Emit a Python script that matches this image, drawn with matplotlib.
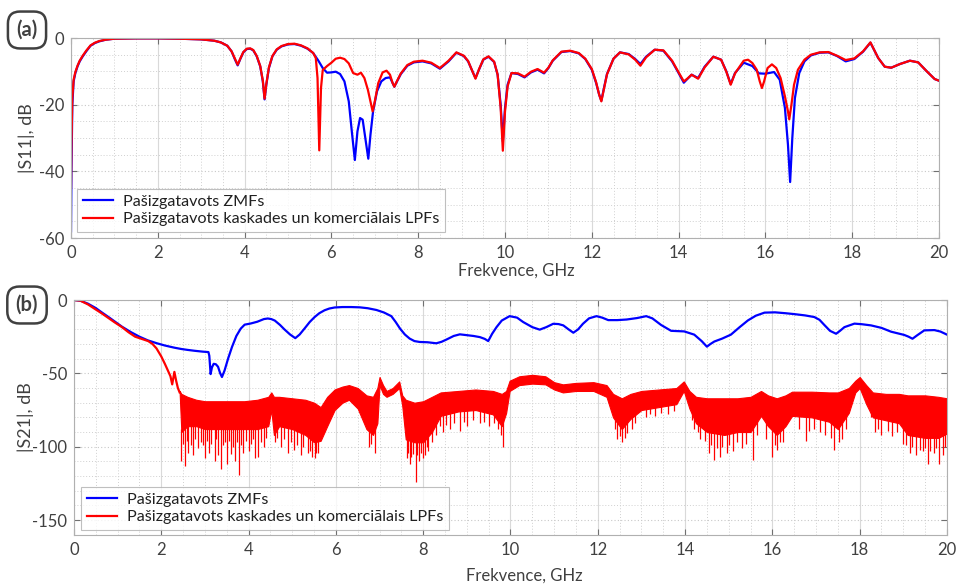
import matplotlib.pyplot as plt
import numpy as np
from matplotlib.ticker import MultipleLocator

plt.rcParams['font.family'] = ['Lato', 'DejaVu Sans']
plt.rcParams['axes.unicode_minus'] = False

# |S11| (dB) - pašizgatavots ZMFs
s11_zmf_f = [0, 0.01, 0.03, 0.06, 0.1, 0.15, 0.2, 0.27, 0.35, 0.45, 0.55, 0.65, 0.8, 1.0, 1.5, 2.0,
             2.5, 3.0, 3.3, 3.45, 3.6, 3.7, 3.78, 3.84, 3.9, 3.97, 4.05, 4.13, 4.2, 4.28, 4.36, 4.42,
             4.46, 4.5, 4.56, 4.64, 4.74, 4.85, 5.0, 5.15, 5.3, 5.45, 5.58, 5.7, 5.8, 5.9, 6.0, 6.1,
             6.2, 6.3, 6.4, 6.47, 6.54, 6.6, 6.66, 6.72, 6.78, 6.85, 6.9, 6.96, 7.05, 7.15, 7.25,
             7.35, 7.41, 7.45, 7.5, 7.6, 7.75, 7.9, 8.1, 8.3, 8.5, 8.7, 8.88, 9.05, 9.15, 9.25, 9.32,
             9.4, 9.5, 9.62, 9.75, 9.83, 9.9, 9.95, 10.0, 10.06, 10.15, 10.3, 10.45, 10.6, 10.75,
             10.9, 11.0, 11.1, 11.3, 11.5, 11.7, 11.85, 12.0, 12.1, 12.17, 12.22, 12.28, 12.35, 12.5,
             12.65, 12.85, 13.0, 13.12, 13.25, 13.45, 13.65, 13.85, 14.0, 14.12, 14.2, 14.3, 14.45,
             14.6, 14.8, 14.98, 15.1, 15.2, 15.3, 15.5, 15.7, 15.85, 16.0, 16.2, 16.33, 16.45, 16.52,
             16.57, 16.62, 16.68, 16.78, 16.9, 17.05, 17.25, 17.45, 17.65, 17.85, 18.05, 18.25,
             18.42, 18.6, 18.75, 18.9, 19.1, 19.33, 19.52, 19.72, 19.9, 20.0]
s11_zmf = [-58, -40, -20, -13, -10.5, -8.5, -7, -5.5, -4, -2.3, -1.5, -1, -0.5, -0.2, -0.1, -0.1,
           -0.2, -0.4, -0.8, -1.3, -2.3, -4, -6.5, -8.2, -6.3, -4.3, -3.3, -3.2, -3.7, -5.5, -8.5, -13,
           -18.4, -14, -9, -5.5, -3.5, -2.5, -1.9, -1.8, -2.3, -3.2, -4.5, -6.8, -9, -10.4, -10.3, -10.1,
           -10.8, -13, -19, -28, -36.6, -28, -24, -24.5, -30, -36.2, -29, -22, -16, -13, -12,
           -11.8, -13.5, -14.6, -13.3, -10.8, -8.3, -7.3, -7, -7.6, -9.2, -7, -4.4, -5.4, -7, -10, -12,
           -9.5, -6.5, -5.6, -7.2, -11, -20, -31, -21, -14, -10.5, -10.8, -11.8, -10.3, -9.5,
           -10.6, -9, -6.8, -4.2, -3.9, -4.6, -6.3, -9.5, -13.5, -17, -18.8, -15, -10.8, -6.2,
           -4.3, -4.8, -6.3, -7.8, -5.6, -3.5, -3.8, -7, -10.5, -13.4, -12.3, -11, -12,
           -8.6, -5.6, -6.5, -10, -13.8, -10.5, -7.4, -8.4, -10.6, -10.7, -10.2, -12.5, -21, -32,
           -43.2, -30, -18, -10.5, -7, -5.2, -4.4, -4.3, -5.4, -7, -6.3, -4.1,
           -1.4, -6, -8.6, -8.9, -7.8, -6.8, -7.3, -10, -12.3, -12.8]

# |S11| (dB) - pašizgatavots kaskades un komerciālais LPFs
s11_lpf_f = [0, 0.01, 0.03, 0.06, 0.1, 0.15, 0.2, 0.27, 0.35, 0.45, 0.55, 0.65, 0.8, 1.0, 1.5, 2.0,
             2.5, 3.0, 3.3, 3.45, 3.6, 3.7, 3.78, 3.84, 3.9, 3.97, 4.05, 4.13, 4.2, 4.28, 4.36, 4.42,
             4.46, 4.5, 4.56, 4.64, 4.74, 4.85, 5.0, 5.15, 5.3, 5.45, 5.58, 5.64, 5.68, 5.72, 5.76,
             5.8, 5.9, 6.0, 6.1, 6.2, 6.3, 6.4, 6.5, 6.6, 6.68, 6.76, 6.84, 6.9, 6.95, 7.0, 7.08,
             7.18, 7.27, 7.35, 7.41, 7.45, 7.5, 7.6, 7.75, 7.9, 8.1, 8.3, 8.5, 8.7, 8.88, 9.05, 9.15,
             9.25, 9.32, 9.4, 9.5, 9.62, 9.75, 9.83, 9.9, 9.95, 10.0, 10.06, 10.15, 10.3, 10.45, 10.6,
             10.75, 10.9, 11.0, 11.1, 11.3, 11.5, 11.7, 11.85, 12.0, 12.1, 12.17, 12.22, 12.28, 12.35,
             12.5, 12.65, 12.85, 13.0, 13.12, 13.25, 13.45, 13.65, 13.85, 14.0, 14.12, 14.2, 14.3,
             14.45, 14.6, 14.8, 14.98, 15.1, 15.2, 15.3, 15.5, 15.6, 15.7, 15.8, 15.87, 15.92, 15.97,
             16.05, 16.15, 16.25, 16.35, 16.45, 16.52, 16.55, 16.6, 16.66, 16.75, 16.9, 17.05,
             17.25, 17.45, 17.65, 17.85, 18.05, 18.25, 18.42, 18.6, 18.75, 18.9, 19.1, 19.33, 19.52,
             19.72, 19.9, 20.0]
s11_lpf = [-45, -32, -18, -12.5, -10.2, -8.3, -6.8, -5.3, -3.8, -2.2, -1.4, -0.9, -0.5, -0.2, -0.1, -0.1,
           -0.2, -0.4, -0.8, -1.3, -2.3, -4, -6.3, -8, -6.2, -4.2, -3.2, -3.1, -3.6, -5.4, -8.4, -12.8,
           -18.2, -13.8, -8.8, -5.4, -3.4, -2.4, -1.8, -1.7, -2.2, -3.1, -4.5, -6, -12, -33.7, -15,
           -9.6, -8.4, -7.4, -6.2, -5.9, -6.3, -7.6, -10.5, -11, -10.4, -12, -15.5, -19, -22, -19, -13.5,
           -10.3, -9.8, -11, -13.5, -14.6, -13.2, -10.6, -8.1, -7.1, -6.8, -7.4, -9, -6.8, -4.3, -5.3, -6.9,
           -10, -12.2, -9.4, -6.4, -5.5, -7.1, -11, -21, -33.8, -22, -14.5, -10.5, -10.6, -11.6, -10.1,
           -9.3, -10.4, -8.9, -6.7, -4.1, -3.8, -4.5, -6.2, -9.3, -13.3, -17, -19, -15.2, -10.9,
           -6.2, -4.3, -4.9, -6.5, -8.3, -5.8, -3.5, -3.7, -6.8, -10.3, -13, -12.2, -11,
           -12.2, -8.8, -5.6, -6.5, -10.1, -14, -10.6, -6.8, -6.5, -7.5, -9.5, -13, -15, -13,
           -9, -7.9, -9, -12, -17.5, -22, -24.4, -20, -14, -9.5, -6.5, -5,
           -4.3, -4.2, -5.3, -6.6, -6.1, -4, -1.3, -6, -8.6, -8.9, -7.8, -6.8, -7.3,
           -10, -12.3, -12.8]

# |S21| (dB) - pašizgatavots ZMFs
s21_zmf_f = [0, 0.15, 0.32, 0.5, 0.63, 0.8, 0.93, 1.1, 1.31, 1.5, 1.69, 1.9, 2.08, 2.3, 2.46, 2.6,
             2.76, 2.95, 3.08, 3.1, 3.13, 3.16, 3.2, 3.25, 3.3, 3.35, 3.39, 3.45, 3.53, 3.62, 3.72,
             3.82, 3.91, 4.05, 4.2, 4.35, 4.44, 4.52, 4.6, 4.72, 4.82, 4.95, 5.07, 5.17, 5.28, 5.4,
             5.51, 5.62, 5.74, 5.85, 5.97, 6.15, 6.35, 6.55, 6.73, 6.93, 7.1, 7.27, 7.37, 7.47, 7.58,
             7.69, 7.8, 7.92, 8.1, 8.3, 8.42, 8.53, 8.7, 8.84, 9.0, 9.15, 9.3, 9.41, 9.49, 9.58, 9.68,
             9.8, 9.98, 10.15, 10.29, 10.5, 10.67, 10.82, 10.98, 11.1, 11.21, 11.33, 11.44, 11.55,
             11.66, 11.8, 11.97, 12.1, 12.24, 12.45, 12.66, 12.9, 13.11, 13.25, 13.45, 13.68, 13.98,
             14.21, 14.38, 14.5, 14.58, 14.67, 14.85, 15.05, 15.25, 15.44, 15.62, 15.82, 16.06, 16.3,
             16.5, 16.75, 16.96, 17.08, 17.19, 17.32, 17.46, 17.55, 17.65, 17.88, 18.05, 18.26, 18.5,
             18.72, 19.02, 19.12, 19.21, 19.32, 19.48, 19.71, 19.85, 20.0]
s21_zmf = [0, -0.5, -2.5, -5.5, -8.3, -11.8, -14.6, -18.2, -22, -25, -27.5, -29.5, -31, -32.5, -33.4, -34,
           -34.6, -35.2, -35.5, -38, -50.5, -46, -43.5, -43.8, -45.5, -50, -52.5, -48, -40, -32, -24.5,
           -19.5, -16.8, -16, -14.8, -13, -12.6, -13, -14, -17, -20, -23.5, -26, -23.5, -19.5, -15,
           -11.7, -9, -7, -5.8, -5.1, -4.8, -4.8, -5, -5.6, -6.8, -8.5, -11, -15, -19.5, -23.5,
           -26.3, -28, -28.6, -28.8, -29.5, -28.5, -27, -24.5, -23.4, -24, -24.5, -25.3, -26.5, -28, -23, -18.5,
           -14, -11, -12, -15, -18.5, -20.2, -18.5, -16.2, -16.4, -17.3, -20, -22.3, -20,
           -16.2, -12.5, -11, -12, -13.7, -13.7, -13.3, -12.3, -11, -12.5, -17, -21, -21.4,
           -23.6, -28, -31.8, -30, -28.3, -26.3, -23.6, -18.5, -13.9, -10.7, -8.6, -8.4, -9,
           -9.6, -10.5, -11.6, -13.5, -17, -21, -23, -21, -18.5, -16.1, -16.5, -17.3, -19,
           -21.6, -23.8, -25, -26.4, -24, -20.7, -20.5, -21.5, -23.6]

# |S21| (dB) - kaskādes un komerciālais LPFs: gluda daļa līdz 2.42 GHz
s21_lpf_f = [0, 0.15, 0.32, 0.5, 0.63, 0.8, 0.93, 1.1, 1.25, 1.4, 1.55, 1.7, 1.8, 1.89, 2.0, 2.08,
             2.15, 2.21, 2.25, 2.3, 2.34, 2.38, 2.42]
s21_lpf = [0, -0.5, -3, -6.5, -9, -12.5, -15.2, -18.5, -22, -25, -26.5, -28, -30, -33, -38.5, -43.4,
           -48, -52, -57.5, -49, -55, -60, -63]

# trokšņainā josla virs 2.42 GHz: augšējā robeža un blīvās daļas apakša
band_f = [2.42, 2.46, 2.6, 2.8, 3.0, 3.3, 3.6, 3.9, 4.2, 4.45, 4.52, 4.58, 4.7, 5.0, 5.3, 5.5, 5.65,
          5.8, 5.97, 6.15, 6.3, 6.5, 6.7, 6.85, 6.95, 7.0, 7.08, 7.16, 7.3, 7.45, 7.52, 7.6, 7.8,
          8.0, 8.2, 8.4, 8.8, 9.2, 9.6, 9.8, 9.9, 9.98, 10.2, 10.5, 10.8, 11.0, 11.2, 11.5, 11.9,
          12.2, 12.35, 12.55, 12.75, 13.0, 13.4, 13.8, 13.97, 14.1, 14.25, 14.5, 14.9, 15.2, 15.5,
          15.74, 15.9, 16.1, 16.3, 16.45, 16.9, 17.3, 17.5, 17.75, 17.9, 18.0, 18.15, 18.3, 18.6,
          18.9, 19.1, 19.5, 19.8, 20.0]
band_top = [-62, -64, -66, -68, -69, -69, -69, -69, -68, -66, -63, -66, -66, -67, -68, -70, -73,
            -66, -61, -59, -58, -60, -65, -66, -60, -52.5, -58, -62, -60, -55.5, -65, -68, -70,
            -69, -66, -63, -62, -61, -62, -64, -62, -55, -52, -51, -52, -56, -57.5, -56.5, -56,
            -58, -64, -67, -64, -62, -61, -60, -55.5, -62, -66, -67, -67, -67, -66,
            -62, -65, -67, -65, -62.5, -62.5, -63, -63, -60, -55, -52.5, -58, -63, -64,
            -64, -65, -65, -66, -67]
band_bot = [-63, -90, -86, -86, -88, -88, -88, -88, -88, -86, -75, -92, -86, -88, -92, -97, -96,
            -86, -75, -70, -68, -74, -88, -92, -84, -58, -64, -66, -64, -60, -72, -95, -97,
            -97, -90, -79, -76, -75, -78, -86, -77, -62, -58, -57, -57.5, -61, -63, -62, -62,
            -66, -80, -88, -81, -75, -73, -71, -62, -74, -84, -90, -92, -90, -90,
            -79, -86, -92, -86, -79, -80, -83, -88, -77, -63, -60, -71, -80, -82,
            -84, -92, -94, -94, -91]

# izlēcieni uz leju zem blīvās daļas
spike_f = [2.46, 2.5, 2.55, 2.58, 2.62, 2.67, 2.72, 2.77, 2.85, 2.9, 2.95, 2.99, 3.04, 3.1, 3.15,
           3.22, 3.26, 3.3, 3.37, 3.42, 3.46, 3.51, 3.56, 3.6, 3.65, 3.7, 3.74, 3.78, 3.83, 3.88,
           3.94, 4.0, 4.05, 4.1, 4.14, 4.22, 4.28, 4.35, 4.4, 4.6, 4.65, 4.75, 4.82, 4.9, 4.97,
           5.05, 5.12, 5.2, 5.25, 5.35, 5.4, 5.45, 5.51, 5.55, 5.6, 6.75, 6.8, 6.89, 7.62, 7.66,
           7.7, 7.73, 7.76, 7.83, 7.86, 7.9, 7.95, 8.0, 8.04, 8.08, 8.12, 8.2, 8.3, 8.38, 8.45,
           8.52, 8.61, 8.7, 8.84, 8.93, 9.0, 9.15, 9.3, 9.4, 9.5, 9.62, 9.72, 9.78, 9.83, 12.4,
           12.45, 12.5, 12.55, 12.62, 12.68, 12.78, 12.85, 13.1, 13.2, 13.3, 13.45, 13.6, 13.75,
           14.15, 14.2, 14.3, 14.35, 14.45, 14.55, 14.6, 14.67, 14.72, 14.79, 14.85, 14.95, 15.0,
           15.1, 15.2, 15.3, 15.4, 15.55, 15.65, 15.85, 15.99, 16.05, 16.1, 16.18, 16.25, 16.6,
           16.77, 16.85, 16.95, 17.1, 17.2, 17.35, 17.42, 17.52, 17.6, 17.68, 18.25, 18.35, 18.42,
           18.5, 18.65, 18.75, 18.85, 19.0, 19.05, 19.15, 19.2, 19.3, 19.38, 19.45, 19.5, 19.56,
           19.62, 19.7, 19.76, 19.82, 19.9, 19.95]
spike_db = [-110, -98, -113, -96, -104, -99, -106, -95, -101, -97, -99, -108, -96, -104, -98,
            -110, -95, -106, -115, -99, -97, -112, -96, -105, -100, -110, -97, -119, -99, -104,
            -96, -103, -98, -95, -108, -107, -97, -100, -94, -97, -94, -100, -95, -104, -97,
            -102, -99, -106, -100, -104, -103, -107, -108, -104, -104, -100, -98, -104, -108, -104,
            -111.6, -107, -105, -124, -106, -110, -104, -108, -106, -100, -103, -97, -92, -86, -90,
            -85, -88, -84, -89, -83, -86, -82, -84, -83, -86, -84, -88, -92, -100, -88,
            -95, -93, -97, -94, -91, -88, -84, -80, -78, -79, -77, -78, -76,
            -82, -88, -90, -95, -96, -104, -99, -109, -101, -107, -100, -104, -99,
            -103, -97, -101, -98, -109, -92, -95, -107, -99, -102, -97, -97, -88,
            -96, -89, -88, -90, -92, -94, -102, -97, -95, -88, -80, -90, -88,
            -92, -89, -93, -90, -98, -99, -104, -100, -106, -102, -103, -101, -111.6,
            -103, -104, -101, -112, -106, -100]

blue = '#0000ff'
red = '#ff0000'
txt = '#404040'

fig = plt.figure(figsize=(9.61, 5.87), dpi=100)
ax1 = fig.add_axes([0.0739, 0.5945, 0.9032, 0.3407])
ax2 = fig.add_axes([0.0770, 0.0891, 0.9084, 0.3998])

ax1.plot(s11_zmf_f, s11_zmf, color=blue, lw=1.6, label='Pašizgatavots ZMFs')
ax1.plot(s11_lpf_f, s11_lpf, color=red, lw=1.6, label='Pašizgatavots kaskades un komerciālais LPFs')

ax2.plot(s21_zmf_f, s21_zmf, color=blue, lw=1.6, label='Pašizgatavots ZMFs')
ax2.plot(s21_lpf_f, s21_lpf, color=red, lw=1.6, label='Pašizgatavots kaskades un komerciālais LPFs')
ax2.fill_between(band_f, band_top, band_bot, color=red, lw=0.8, edgecolor=red)
ax2.vlines(spike_f, spike_db, np.interp(spike_f, band_f, band_bot) + 2, color=red, lw=0.9)

for ax, ylim, ymaj, ymin_step in [(ax1, (-60, 0), 20, 5), (ax2, (-160, 0), 50, 10)]:
    ax.set_xlim(0, 20)
    ax.set_ylim(*ylim)
    ax.xaxis.set_major_locator(MultipleLocator(2))
    ax.xaxis.set_minor_locator(MultipleLocator(0.5))
    ax.yaxis.set_major_locator(MultipleLocator(ymaj))
    ax.yaxis.set_minor_locator(MultipleLocator(ymin_step))
    ax.grid(True, axis='x', which='major', color='#d9d9d9', lw=0.8, ls='-')
    ax.grid(True, axis='y', which='major', color='#c8c8c8', lw=0.8, ls=(0, (1, 2)))
    ax.grid(True, which='minor', color='#d0d0d0', lw=0.7, ls=(0, (1, 2)))
    ax.set_axisbelow(True)
    ax.tick_params(which='major', direction='in', length=4, width=0.8, color='#707070',
                   top=True, right=True, labelsize=12, labelcolor=txt, pad=5)
    ax.tick_params(which='minor', length=0)
    for s in ax.spines.values():
        s.set_color('#b0b0b0')
        s.set_linewidth(0.8)
    ax.set_xlabel('Frekvence, GHz', fontsize=12, color=txt)
    leg = ax.legend(loc='lower left', fontsize=11.6, frameon=True, fancybox=False,
                    handlelength=1.9, borderpad=0.35, labelspacing=0.2, handletextpad=0.6,
                    borderaxespad=0.0)
    leg.get_frame().set_edgecolor('#b0b0b0')
    leg.get_frame().set_linewidth(0.8)
    for t in leg.get_texts():
        t.set_color('#202020')

ax1.set_ylabel('|S11|, dB', fontsize=13, color=txt)
ax2.set_ylabel('|S21|, dB', fontsize=13, color=txt)
ax1.yaxis.set_label_coords(-0.042, 0.5)
ax2.yaxis.set_label_coords(-0.046, 0.5)
ax1.xaxis.set_label_coords(0.5127, -0.125)
ax2.xaxis.set_label_coords(0.516, -0.14)
ax1.get_legend().set_bbox_to_anchor((0.007, 0.03), transform=ax1.transAxes)
ax2.get_legend().set_bbox_to_anchor((0.008, 0.02), transform=ax2.transAxes)

box = dict(boxstyle='round,pad=0.42,rounding_size=0.6', facecolor='white', edgecolor='#404040', lw=1.8)
fig.text(27 / 961, 1 - 30 / 587, '(a)', fontsize=14.5, fontweight='bold', color='#404040',
         ha='center', va='center', bbox=box)
fig.text(27 / 961, 1 - 305 / 587, '(b)', fontsize=14.5, fontweight='bold', color='#404040',
         ha='center', va='center', bbox=box)

fig.savefig('out.png', dpi=100)
